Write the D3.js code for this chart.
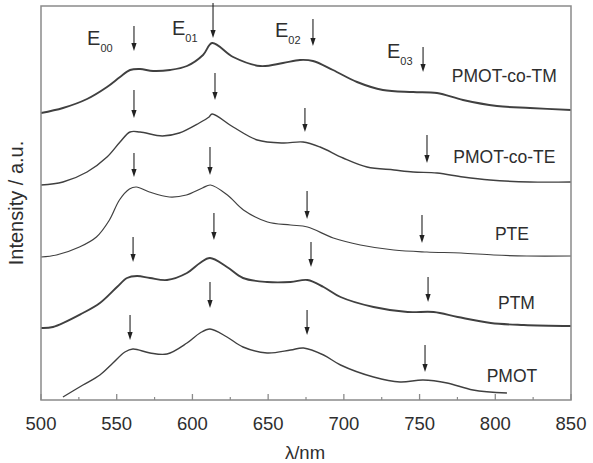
<!DOCTYPE html>
<html><head><meta charset="utf-8">
<script src="https://cdn.jsdelivr.net/npm/d3@7"></script>
<style>body{margin:0;background:#fff}svg{display:block}</style>
</head><body><svg id="c" width="593" height="463"></svg>
<script>
// ---- data (wavelength in nm, intensity in offset a.u.) ----
const seriesNames = ["PMOT-co-TM", "PMOT-co-TE", "PTE", "PTM", "PMOT"];

const wlTM  = [500, 514.5, 530.4, 543.6, 552.2, 558.8, 565.4, 574, 585.2, 596.4, 607, 613, 626.9, 644.7, 659.8, 671, 679.6, 692.8, 708.7, 725.8, 745.7, 761.5, 778.7, 801.1, 822.9, 850];
const intTM = [287, 292, 301, 313, 323, 330, 331, 329, 330, 334, 345, 357, 343, 334, 337, 340, 339, 330, 318, 310, 308, 307, 300, 294, 292, 290];

const wlTE  = [500, 514.5, 530.4, 543.6, 552.2, 558.8, 565.4, 580.1, 591.3, 604.5, 611, 613, 626.9, 642.8, 659.8, 673, 684.3, 699.5, 715.3, 733.2, 745.7, 761.5, 778.7, 796.5, 822.9, 850];
const intTE = [215, 218, 228, 243, 258, 268, 268, 264, 267, 277, 283, 286, 273, 260, 257, 258, 253, 242, 233, 230, 228, 227, 223, 220, 218, 218];

const wlPTE  = [500, 510.2, 525.4, 536.6, 545.2, 551.8, 558.4, 563, 571.6, 584.8, 596, 606.6, 611.9, 623.1, 633.7, 649.6, 664.8, 676, 693, 710.9, 733, 754.8, 777.3, 799, 820.8, 850];
const intPTE = [143, 145, 153, 163, 180, 200, 211, 213, 208, 203, 205, 212, 215, 205, 190, 178, 175, 173, 162, 155, 150, 148, 147, 145, 144, 144];

const wlPTM  = [500, 507.9, 527.7, 538.9, 550.2, 556.8, 563.4, 572, 583.2, 596.4, 605, 611.6, 622.8, 633.4, 649.3, 664.8, 676, 686.6, 697.8, 719.6, 742.1, 759.3, 775.2, 797, 818.8, 850];
const intPTM = [72, 73, 87, 97, 113, 122, 124, 122, 120, 127, 137, 142, 133, 122, 118, 118, 120, 113, 103, 93, 88, 88, 83, 77, 75, 74];

const wlPMOT  = [514.5, 527.7, 538.9, 547.5, 555.4, 560.7, 572, 583.2, 596.4, 605, 611.6, 622.8, 633.4, 649.3, 664.8, 673.4, 686.6, 697.8, 719.6, 737.1, 752.3, 768.2, 785.3, 807.7];
const intPMOT = [3, 15, 25, 37, 48, 51, 47, 46, 57, 67, 71, 63, 53, 47, 50, 52, 45, 35, 23, 18, 20, 17, 10, 7];

// arrows marking vibronic peaks: wavelength and arrow tip intensity
const arrowWl  = [561.4, 613.6, 679.6, 752.3,  561.4, 614.9, 674.3, 754.9,  561.4, 611.6, 675.7, 751.6,  560.8, 614.2, 678.3, 755.6,  558.8, 611.6, 675.7, 753.6];
const arrowTip = [349, 362, 354, 328,  282, 300, 268, 237,  223, 225, 181, 157,  138, 160, 133, 98,  60, 92, 65, 28];
const arrowLen = [25, 35, 27, 25,  28, 27, 24, 28,  24, 28, 28, 28,  25, 27, 25, 25,  25, 26, 25, 27];

const peakMain = ["E", "E", "E", "E"];
const peakSub  = ["00", "01", "02", "03"];
const peakWl   = [530.4, 586.5, 654.5, 728.5];
const peakInt  = [355, 365, 363, 342];

const labelWl  = [806, 806, 811, 814, 811];
const labelInt = [318, 237, 160, 91, 18];

const xTicks = [500, 550, 600, 650, 700, 750, 800, 850];
const xMinor = [525, 575, 625, 675, 725, 775, 825];

// ---- drawing ----
const svg = d3.select("#c");
const L = 41, R = 571, T = 6, B = 400;
const x = d3.scaleLinear().domain([500, 850]).range([L, R]);
const y = d3.scaleLinear().domain([0, 394]).range([B, T]);
const font = "'Liberation Sans', Arial, sans-serif";
const axisCol = "#8a8a8a", lineCol = "#404040", textCol = "#2e2e2e";

const series = [
  {wl: wlTM, v: intTM, w: 1.9},
  {wl: wlTE, v: intTE, w: 1.4},
  {wl: wlPTE, v: intPTE, w: 1.2},
  {wl: wlPTM, v: intPTM, w: 1.9},
  {wl: wlPMOT, v: intPMOT, w: 1.4}
];
const line = d3.line().x(d => x(d[0])).y(d => y(d[1])).curve(d3.curveCatmullRom.alpha(0.5));
series.forEach(s => {
  svg.append("path")
    .attr("d", line(s.wl.map((w, i) => [w, s.v[i]])))
    .attr("fill", "none").attr("stroke", lineCol).attr("stroke-width", s.w)
    .attr("stroke-linejoin", "round");
});

// frame
svg.append("rect").attr("x", L).attr("y", T).attr("width", R - L).attr("height", B - T)
  .attr("fill", "none").attr("stroke", axisCol).attr("stroke-width", 1.5);

// bottom axis ticks (inward)
const g = svg.append("g").attr("transform", `translate(0,${B})`);
g.selectAll("line.maj").data(xTicks).join("line")
  .attr("x1", d => x(d)).attr("x2", d => x(d)).attr("y1", 0).attr("y2", -6)
  .attr("stroke", axisCol).attr("stroke-width", 1.3);
g.selectAll("line.min").data(xMinor).join("line")
  .attr("x1", d => x(d)).attr("x2", d => x(d)).attr("y1", 0).attr("y2", -3)
  .attr("stroke", axisCol).attr("stroke-width", 1.2);
g.selectAll("text").data(xTicks).join("text")
  .attr("x", d => x(d)).attr("y", 30).attr("text-anchor", "middle")
  .attr("font-family", font).attr("font-size", 18.5).attr("fill", textCol).text(d => d);

// axis titles
svg.append("text").attr("x", 305).attr("y", 459).attr("text-anchor", "middle")
  .attr("font-family", font).attr("font-size", 18.5).attr("fill", textCol).text("λ/nm");
svg.append("text").attr("transform", `translate(23,${(T + B) / 2}) rotate(-90)`)
  .attr("text-anchor", "middle").attr("font-family", font).attr("font-size", 20)
  .attr("fill", textCol).text("Intensity / a.u.");

// arrows
arrowWl.forEach((w, i) => {
  const ax = x(w), tip = y(arrowTip[i]), top = tip - arrowLen[i];
  svg.append("line").attr("x1", ax).attr("x2", ax).attr("y1", top).attr("y2", tip - 6)
    .attr("stroke", "#222").attr("stroke-width", 1.1);
  svg.append("path").attr("d", `M${ax - 2.6},${tip - 8}L${ax + 2.6},${tip - 8}L${ax},${tip}Z`)
    .attr("fill", "#222");
});

// peak labels
peakMain.forEach((m, i) => {
  const t = svg.append("text").attr("x", x(peakWl[i])).attr("y", y(peakInt[i]))
    .attr("font-family", font).attr("font-size", 20).attr("fill", textCol);
  t.append("tspan").text(m);
  t.append("tspan").attr("dy", 7).attr("font-size", 11).text(peakSub[i]);
});

// series labels
seriesNames.forEach((n, i) => {
  svg.append("text").attr("x", x(labelWl[i])).attr("y", y(labelInt[i]))
    .attr("text-anchor", "middle").attr("font-family", font).attr("font-size", 17.5)
    .attr("fill", textCol).text(n);
});
</script>
</body></html>
